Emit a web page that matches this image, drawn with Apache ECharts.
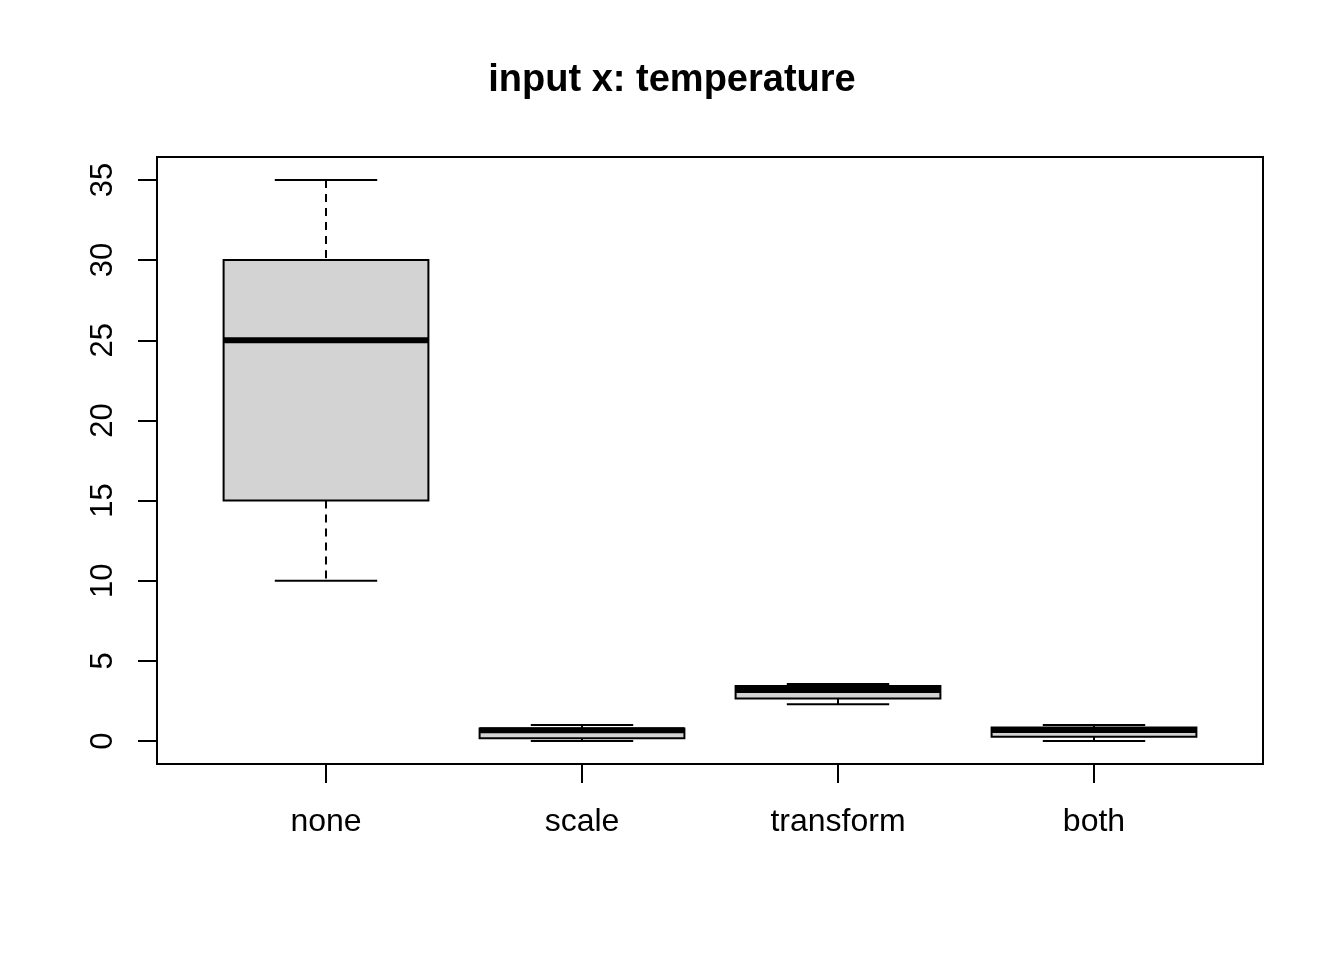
<!DOCTYPE html>
<html><head><meta charset="utf-8">
<script src="https://cdn.jsdelivr.net/npm/echarts@6/dist/echarts.min.js"></script>
<style>html,body{margin:0;padding:0;background:#fff}#c{width:1344px;height:960px}</style>
</head><body><div id="c"></div>
<script>
const categories = ['none','scale','transform','both'];
// [whiskerLow, Q1, median, Q3, whiskerHigh]
const boxStats = [
  [10, 15, 25, 30, 35],
  [0, 0.17, 0.68, 0.79, 1.0],
  [2.29, 2.66, 3.18, 3.43, 3.56],
  [0, 0.27, 0.69, 0.85, 1.0]
];
const yTicks = [0,5,10,15,20,25,30,35];

const chart = echarts.init(document.getElementById('c'));
const F = 'Liberation Sans, Arial, sans-serif';
chart.setOption({
  animation:false,
  backgroundColor:'#fff',
  title:{text:'input x: temperature',left:'center',top:57,
    textStyle:{fontFamily:F,fontSize:38,fontWeight:'bold',color:'#000'}},
  grid:{left:198,right:122,top:157,bottom:196},
  xAxis:{type:'category',data:categories,
    axisLine:{show:false,onZero:false},
    axisTick:{show:true,alignWithLabel:true,inside:false,length:19,lineStyle:{color:'#000',width:2}},
    axisLabel:{fontFamily:F,fontSize:32,color:'#000',margin:42},
    splitLine:{show:false}},
  yAxis:{type:'value',min:-1.43,max:36.43,offset:41,
    axisLine:{show:false},
    splitLine:{show:false},
    axisTick:{show:true,length:19,customValues:yTicks,lineStyle:{color:'#000',width:2}},
    axisLabel:{fontFamily:F,fontSize:31,color:'#000',rotate:90,margin:38,customValues:yTicks}},
  graphic:[{type:'rect',shape:{x:157,y:157,width:1106,height:607},
    style:{fill:null,stroke:'#000',lineWidth:2},z:100}],
  series:[{
    type:'custom',
    data:boxStats.map((s,i)=>[i].concat(s)),
    renderItem:function(params,api){
      const i=api.value(0);
      const lo=api.coord([i,api.value(1)]), q1=api.coord([i,api.value(2)]),
            md=api.coord([i,api.value(3)]), q3=api.coord([i,api.value(4)]),
            hi=api.coord([i,api.value(5)]);
      const bw=api.size([1,0])[0]*0.8, x=lo[0];
      const k={stroke:'#000',lineWidth:2};
      const d={stroke:'#000',lineWidth:2,lineDash:[8,6]};
      return {type:'group',children:[
        {type:'line',shape:{x1:x,y1:hi[1],x2:x,y2:q3[1]},style:d},
        {type:'line',shape:{x1:x,y1:q1[1],x2:x,y2:lo[1]},style:d},
        {type:'line',shape:{x1:x-bw/4,y1:hi[1],x2:x+bw/4,y2:hi[1]},style:k},
        {type:'line',shape:{x1:x-bw/4,y1:lo[1],x2:x+bw/4,y2:lo[1]},style:k},
        {type:'rect',shape:{x:x-bw/2,y:q3[1],width:bw,height:q1[1]-q3[1]},
          style:{fill:'#d3d3d3',stroke:'#000',lineWidth:2}},
        {type:'line',shape:{x1:x-bw/2,y1:md[1],x2:x+bw/2,y2:md[1]},style:{stroke:'#000',lineWidth:6}}
      ]};
    }
  }]
});
</script></body></html>
